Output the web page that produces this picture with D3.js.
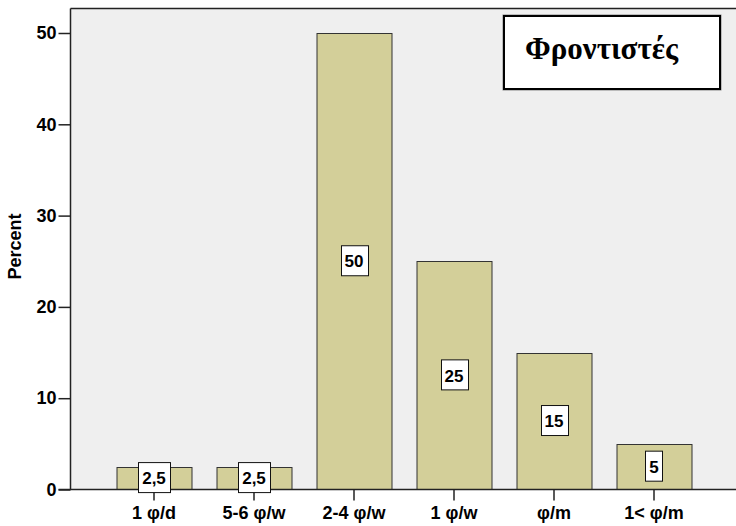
<!DOCTYPE html>
<html>
<head>
<meta charset="utf-8">
<script src="https://cdn.jsdelivr.net/npm/d3@7"></script>
<style>
  html, body { margin: 0; padding: 0; background: #ffffff; }
  svg { display: block; }
</style>
</head>
<body>
<svg id="chart" width="736" height="526"></svg>
<script>
// Frequency of visits (percent)
const categories = ["1 φ/d", "5-6 φ/w", "2-4 φ/w", "1 φ/w", "φ/m", "1< φ/m"];
const percents = [2.5, 2.5, 50, 25, 15, 5];
const valueLabels = ["2,5", "2,5", "50", "25", "15", "5"];
const yTicks = [0, 10, 20, 30, 40, 50];
const yTitle = "Percent";
const boxTitle = "Φροντιστές";

const svg = d3.select("#chart");
const plot = { left: 70.5, top: 8.5, right: 737, bottom: 489.5 };
const sans = "Liberation Sans, Arial, sans-serif";

// plot background
svg.append("rect")
  .attr("x", plot.left).attr("y", plot.top)
  .attr("width", plot.right - plot.left).attr("height", plot.bottom - plot.top)
  .attr("fill", "#efefef");

const x = d3.scaleBand()
  .domain(categories)
  .range([104, 704])
  .paddingInner(0.25)
  .paddingOuter(0.125);

const y = d3.scaleLinear()
  .domain([0, 50])
  .range([plot.bottom, 33]);

// top frame line
svg.append("line")
  .attr("x1", plot.left).attr("x2", plot.right)
  .attr("y1", plot.top).attr("y2", plot.top)
  .attr("stroke", "#222").attr("stroke-width", 1.5);

// bars
svg.append("g").selectAll("rect")
  .data(percents)
  .join("rect")
  .attr("x", (d, i) => x(categories[i]) + 0.5)
  .attr("width", x.bandwidth())
  .attr("y", d => Math.round(y(d)) + 0.5)
  .attr("height", d => plot.bottom - (Math.round(y(d)) + 0.5))
  .attr("fill", "#d3cf99")
  .attr("stroke", "#333")
  .attr("stroke-width", 1);

// y axis
const yAxis = svg.append("g")
  .attr("transform", `translate(${plot.left},0)`)
  .call(d3.axisLeft(y).tickValues(yTicks).tickSize(12).tickPadding(2).tickFormat(d3.format("d")));
yAxis.select(".domain").attr("d", `M0,${plot.top}V${plot.bottom}`).attr("stroke", "#222").attr("stroke-width", 1.5);
yAxis.selectAll(".tick line").attr("stroke", "#222").attr("stroke-width", 1.5);
yAxis.selectAll(".tick text")
  .attr("font-family", sans)
  .attr("font-weight", "bold").attr("font-size", 18).attr("fill", "#000");

// x axis
const xAxis = svg.append("g")
  .attr("transform", `translate(0,${plot.bottom})`)
  .call(d3.axisBottom(x).tickSize(11).tickPadding(6));
xAxis.select(".domain").attr("d", `M${plot.left - 12},0H${plot.right}`).attr("stroke", "#222").attr("stroke-width", 1.5);
xAxis.selectAll(".tick line").attr("stroke", "#222").attr("stroke-width", 1.5);
xAxis.selectAll(".tick text")
  .attr("font-family", sans)
  .attr("font-weight", "bold").attr("font-size", 18).attr("fill", "#000");

// y title
svg.append("text")
  .attr("transform", `translate(21,246.5) rotate(-90)`)
  .attr("text-anchor", "middle")
  .attr("font-family", sans)
  .attr("font-weight", "bold").attr("font-size", 18)
  .text(yTitle);

// value labels inside bars
const lab = svg.append("g").selectAll("g")
  .data(percents)
  .join("g")
  .attr("transform", (d, i) => `translate(${x(categories[i]) + x.bandwidth() / 2},${(y(d) + plot.bottom) / 2})`);
lab.append("text")
  .attr("text-anchor", "middle")
  .attr("dy", "0.36em")
  .attr("font-family", sans)
  .attr("font-weight", "bold").attr("font-size", 17)
  .text((d, i) => valueLabels[i]);
lab.each(function () {
  const g = d3.select(this);
  const bb = g.select("text").node().getBBox();
  g.insert("rect", "text")
    .attr("x", Math.round(bb.x - 4) + 0.5).attr("y", -15.5)
    .attr("width", Math.round(bb.width + 8)).attr("height", 30)
    .attr("fill", "#fff").attr("stroke", "#111").attr("stroke-width", 1);
});

// annotation box with soft shadow edge
svg.append("rect")
  .attr("x", 503).attr("y", 15).attr("width", 218).attr("height", 75)
  .attr("fill", "none").attr("stroke", "#888").attr("stroke-width", 1);
svg.append("rect")
  .attr("x", 504).attr("y", 16).attr("width", 216).attr("height", 73)
  .attr("fill", "#fff").attr("stroke", "#000").attr("stroke-width", 2);
svg.append("text")
  .attr("x", 525).attr("y", 59)
  .attr("font-family", "Liberation Serif, Times New Roman, serif")
  .attr("font-weight", "bold").attr("font-size", 31)
  .text(boxTitle);
</script>
</body>
</html>
